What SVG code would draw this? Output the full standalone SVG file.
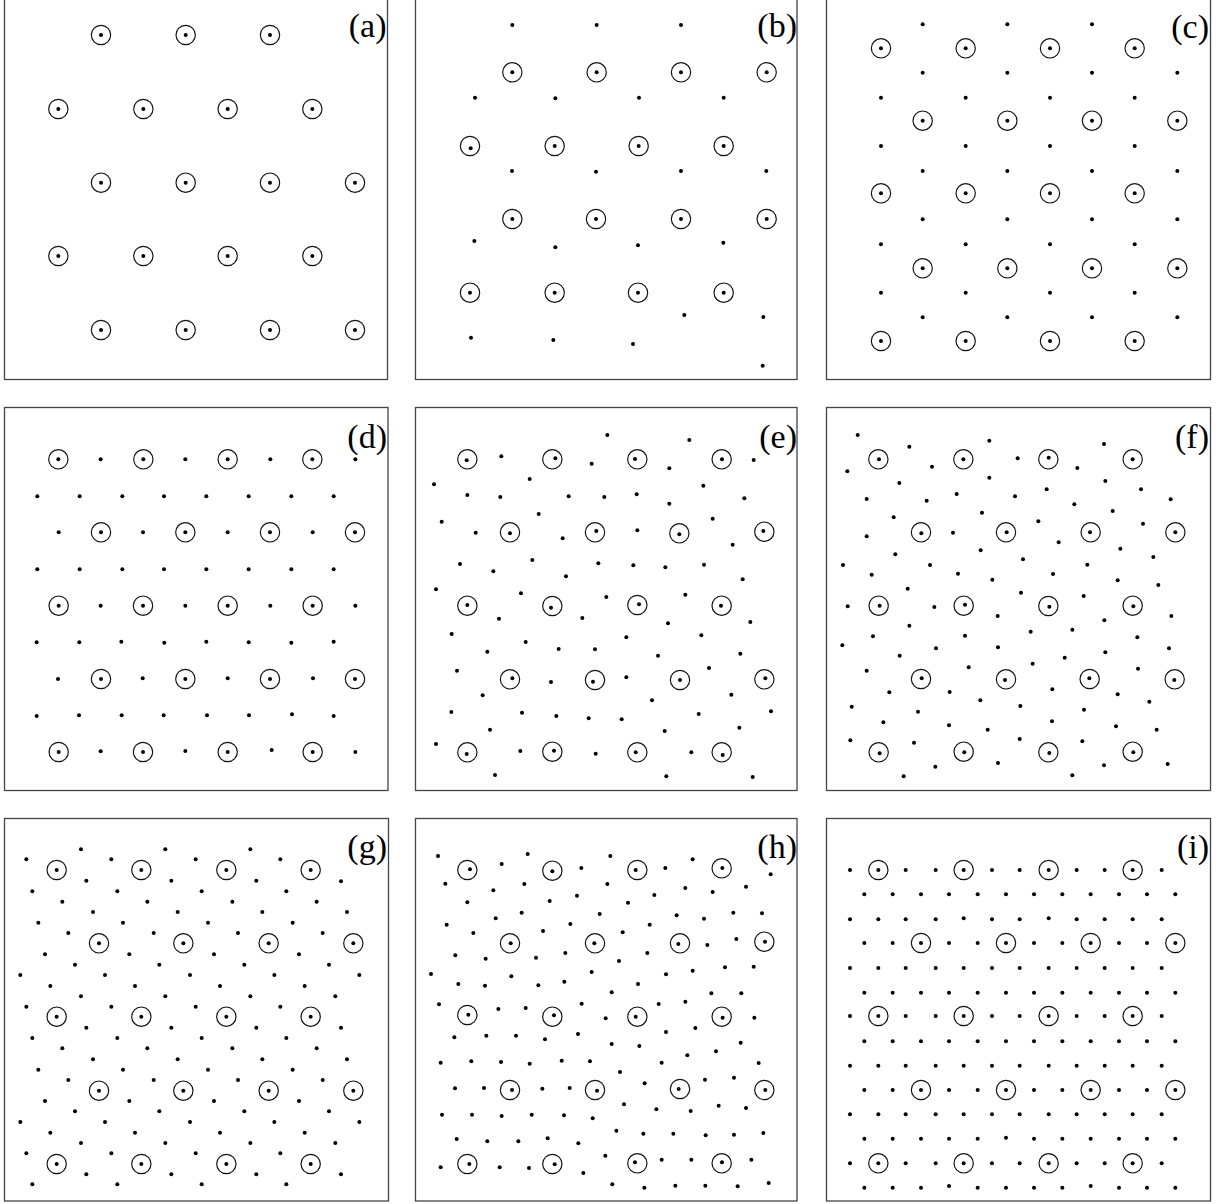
<svg xmlns="http://www.w3.org/2000/svg" width="1224" height="1204" viewBox="0 0 1224 1204">
<style>
.ring{fill:none;stroke:#111;stroke-width:3.5}
.frame{fill:none;stroke:#444;stroke-width:1.3}
.lbl{font-family:"Liberation Serif","Times New Roman",serif;font-size:34px;text-anchor:end;fill:#000}
</style>
<defs>
<circle id="p" r="6" fill="#000"/>
<circle id="r" r="29" class="ring"/>
<g id="c"><use href="#r"/><use href="#p"/></g>
</defs>
<rect width="1224" height="1204" fill="#fff"/>
<g id="frames">
<rect class="frame" x="4.5" y="-4" width="383" height="383.5"/>
<rect class="frame" x="415.5" y="-4" width="381.5" height="383.5"/>
<rect class="frame" x="826.5" y="-4" width="384" height="383.5"/>
<rect class="frame" x="4.5" y="407.5" width="383.5" height="383"/>
<rect class="frame" x="415.5" y="407.5" width="381.5" height="383"/>
<rect class="frame" x="826.5" y="407.5" width="384" height="383"/>
<rect class="frame" x="4.5" y="818.5" width="384" height="382.5"/>
<rect class="frame" x="415.5" y="818.5" width="381.5" height="382.5"/>
<rect class="frame" x="826.5" y="818.5" width="384" height="382.5"/>
</g>
<g id="labels">
<text class="lbl" x="386.5" y="36.5">(a)</text>
<text class="lbl" x="797" y="36.5">(b)</text>
<text class="lbl" x="1209" y="38">(c)</text>
<text class="lbl" x="387" y="447.5">(d)</text>
<text class="lbl" x="797" y="447.5">(e)</text>
<text class="lbl" x="1209" y="447.5">(f)</text>
<text class="lbl" x="387" y="857.5">(g)</text>
<text class="lbl" x="797" y="857.5">(h)</text>
<text class="lbl" x="1209" y="857.5">(i)</text>
</g>
<g id="panel-a" transform="translate(0,0) scale(0.333333)">
<use href="#c" x="303" y="105"/><use href="#c" x="557" y="105"/><use href="#c" x="810" y="105"/>
<use href="#c" x="175" y="327"/><use href="#c" x="430" y="327"/><use href="#c" x="683" y="327"/><use href="#c" x="937" y="327"/>
<use href="#c" x="303" y="548"/><use href="#c" x="557" y="548"/><use href="#c" x="810" y="548"/><use href="#c" x="1065" y="548"/>
<use href="#c" x="175" y="768"/><use href="#c" x="430" y="768"/><use href="#c" x="683" y="768"/><use href="#c" x="937" y="768"/>
<use href="#c" x="303" y="990"/><use href="#c" x="557" y="990"/><use href="#c" x="810" y="990"/><use href="#c" x="1065" y="990"/>
</g>
<g id="panel-b" transform="translate(405,0) scale(0.333333)">
<use href="#p" x="322" y="75"/><use href="#p" x="575" y="75"/><use href="#p" x="828" y="75"/>
<use href="#c" x="322" y="217"/><use href="#c" x="575" y="217"/><use href="#c" x="828" y="217"/><use href="#c" x="1085" y="217"/>
<use href="#p" x="210" y="293"/><use href="#p" x="451" y="295"/><use href="#p" x="702" y="293"/><use href="#p" x="956" y="293"/>
<use href="#r" x="195" y="438"/><use href="#p" x="197" y="445"/><use href="#c" x="449" y="438"/><use href="#c" x="701" y="438"/><use href="#c" x="956" y="438"/>
<use href="#p" x="321" y="513"/><use href="#p" x="573" y="515"/><use href="#p" x="828" y="513"/><use href="#p" x="1084" y="513"/>
<use href="#c" x="322" y="657"/><use href="#c" x="573" y="657"/><use href="#c" x="828" y="657"/><use href="#c" x="1085" y="657"/>
<use href="#p" x="208" y="723"/><use href="#p" x="451" y="742"/><use href="#p" x="699" y="736"/><use href="#p" x="955" y="728"/>
<use href="#c" x="195" y="878"/><use href="#c" x="449" y="878"/><use href="#c" x="699" y="878"/><use href="#c" x="956" y="878"/>
<use href="#p" x="838" y="945"/><use href="#p" x="1075" y="951"/><use href="#p" x="198" y="1013"/><use href="#p" x="445" y="1020"/><use href="#p" x="684" y="1032"/><use href="#p" x="1073" y="1097"/>
</g>
<g id="panel-c" transform="translate(815,0) scale(0.333333)">
<use href="#p" x="323" y="73"/><use href="#p" x="577" y="73"/><use href="#p" x="831" y="73"/>
<use href="#c" x="198" y="145"/><use href="#c" x="452" y="145"/><use href="#c" x="705" y="145"/><use href="#c" x="959" y="145"/>
<use href="#p" x="323" y="218"/><use href="#p" x="577" y="218"/><use href="#p" x="831" y="218"/><use href="#p" x="1087" y="218"/>
<use href="#p" x="198" y="293"/><use href="#p" x="452" y="293"/><use href="#p" x="705" y="293"/><use href="#p" x="959" y="293"/>
<use href="#c" x="323" y="362"/><use href="#c" x="577" y="362"/><use href="#c" x="831" y="362"/><use href="#c" x="1087" y="362"/>
<use href="#p" x="198" y="438"/><use href="#p" x="452" y="438"/><use href="#p" x="705" y="438"/><use href="#p" x="959" y="438"/>
<use href="#p" x="323" y="513"/><use href="#p" x="577" y="513"/><use href="#p" x="831" y="513"/><use href="#p" x="1087" y="513"/>
<use href="#c" x="198" y="580"/><use href="#c" x="452" y="580"/><use href="#c" x="705" y="580"/><use href="#c" x="959" y="580"/>
<use href="#p" x="323" y="658"/><use href="#p" x="577" y="658"/><use href="#p" x="831" y="658"/><use href="#p" x="1087" y="658"/>
<use href="#p" x="198" y="733"/><use href="#p" x="452" y="733"/><use href="#p" x="705" y="733"/><use href="#p" x="959" y="733"/>
<use href="#c" x="323" y="805"/><use href="#c" x="577" y="805"/><use href="#c" x="831" y="805"/><use href="#c" x="1087" y="805"/>
<use href="#p" x="198" y="878"/><use href="#p" x="452" y="878"/><use href="#p" x="705" y="878"/><use href="#p" x="959" y="878"/>
<use href="#p" x="323" y="952"/><use href="#p" x="577" y="952"/><use href="#p" x="831" y="952"/><use href="#p" x="1087" y="952"/>
<use href="#c" x="198" y="1023"/><use href="#c" x="452" y="1023"/><use href="#c" x="705" y="1023"/><use href="#c" x="959" y="1023"/>
</g>
<g id="panel-d" transform="translate(0,400) scale(0.333333)">
<use href="#c" x="175" y="178"/><use href="#c" x="430" y="178"/><use href="#c" x="683" y="178"/><use href="#c" x="937" y="178"/>
<use href="#p" x="302" y="178"/><use href="#p" x="556" y="178"/><use href="#p" x="811" y="178"/><use href="#p" x="1066" y="178"/>
<use href="#p" x="112" y="289"/><use href="#p" x="239" y="289"/><use href="#p" x="367" y="289"/><use href="#p" x="492" y="289"/><use href="#p" x="619" y="289"/><use href="#p" x="746" y="289"/><use href="#p" x="874" y="289"/><use href="#p" x="1001" y="289"/>
<use href="#p" x="176" y="397"/><use href="#p" x="429" y="397"/><use href="#p" x="683" y="397"/><use href="#p" x="938" y="397"/>
<use href="#c" x="303" y="397"/><use href="#c" x="556" y="397"/><use href="#c" x="810" y="397"/><use href="#c" x="1065" y="397"/>
<use href="#p" x="112" y="508"/><use href="#p" x="239" y="508"/><use href="#p" x="367" y="508"/><use href="#p" x="492" y="508"/><use href="#p" x="619" y="508"/><use href="#p" x="746" y="508"/><use href="#p" x="874" y="508"/><use href="#p" x="1001" y="508"/>
<use href="#c" x="176" y="617"/><use href="#c" x="429" y="617"/><use href="#c" x="683" y="617"/><use href="#c" x="938" y="617"/>
<use href="#p" x="302" y="617"/><use href="#p" x="556" y="617"/><use href="#p" x="811" y="617"/><use href="#p" x="1066" y="617"/>
<use href="#p" x="110" y="727"/><use href="#p" x="238" y="727"/><use href="#p" x="364" y="725"/><use href="#p" x="493" y="728"/><use href="#p" x="619" y="725"/><use href="#p" x="746" y="727"/><use href="#p" x="874" y="728"/><use href="#p" x="1001" y="725"/>
<use href="#p" x="174" y="837"/><use href="#p" x="428" y="835"/><use href="#p" x="683" y="835"/><use href="#p" x="939" y="835"/>
<use href="#c" x="303" y="837"/><use href="#c" x="556" y="837"/><use href="#c" x="810" y="837"/><use href="#c" x="1065" y="837"/>
<use href="#p" x="110" y="948"/><use href="#p" x="237" y="946"/><use href="#p" x="365" y="946"/><use href="#p" x="491" y="946"/><use href="#p" x="621" y="946"/><use href="#p" x="747" y="946"/><use href="#p" x="876" y="943"/><use href="#p" x="1001" y="948"/>
<use href="#c" x="176" y="1056"/><use href="#c" x="429" y="1056"/><use href="#c" x="683" y="1056"/><use href="#c" x="938" y="1056"/>
<use href="#p" x="302" y="1054"/><use href="#p" x="556" y="1053"/><use href="#p" x="815" y="1050"/><use href="#p" x="1066" y="1056"/>
</g>
<g id="panel-e" transform="translate(405,400) scale(0.333333)">
<use href="#r" x="187" y="178"/><use href="#p" x="185" y="181"/>
<use href="#r" x="442" y="178"/><use href="#p" x="451" y="175"/>
<use href="#r" x="697" y="178"/><use href="#p" x="690" y="177"/>
<use href="#r" x="950" y="178"/><use href="#p" x="951" y="178"/>
<use href="#r" x="315" y="397"/><use href="#p" x="315" y="400"/>
<use href="#r" x="570" y="397"/><use href="#p" x="574" y="393"/>
<use href="#r" x="823" y="400"/><use href="#p" x="823" y="403"/>
<use href="#r" x="1078" y="395"/><use href="#p" x="1075" y="393"/>
<use href="#r" x="187" y="617"/><use href="#p" x="187" y="615"/>
<use href="#r" x="442" y="618"/><use href="#p" x="438" y="623"/>
<use href="#r" x="697" y="615"/><use href="#p" x="702" y="613"/>
<use href="#r" x="950" y="617"/><use href="#p" x="948" y="617"/>
<use href="#r" x="315" y="838"/><use href="#p" x="322" y="835"/>
<use href="#r" x="570" y="840"/><use href="#p" x="564" y="845"/>
<use href="#r" x="825" y="840"/><use href="#p" x="825" y="840"/>
<use href="#r" x="1078" y="838"/><use href="#p" x="1081" y="835"/>
<use href="#r" x="187" y="1057"/><use href="#p" x="185" y="1062"/>
<use href="#r" x="442" y="1055"/><use href="#p" x="447" y="1052"/>
<use href="#r" x="697" y="1057"/><use href="#p" x="692" y="1057"/>
<use href="#r" x="950" y="1057"/><use href="#p" x="953" y="1065"/>
<use href="#p" x="607" y="105"/><use href="#p" x="853" y="120"/>
<use href="#p" x="289" y="169"/><use href="#p" x="560" y="191"/><use href="#p" x="793" y="205"/><use href="#p" x="1046" y="180"/>
<use href="#p" x="87" y="253"/><use href="#p" x="374" y="237"/><use href="#p" x="895" y="257"/>
<use href="#p" x="187" y="285"/><use href="#p" x="286" y="291"/><use href="#p" x="491" y="289"/><use href="#p" x="598" y="291"/><use href="#p" x="695" y="283"/><use href="#p" x="793" y="311"/><use href="#p" x="1018" y="295"/>
<use href="#p" x="110" y="365"/><use href="#p" x="401" y="342"/><use href="#p" x="923" y="356"/>
<use href="#p" x="212" y="398"/><use href="#p" x="473" y="415"/><use href="#p" x="697" y="391"/><use href="#p" x="983" y="434"/>
<use href="#p" x="165" y="492"/><use href="#p" x="265" y="514"/><use href="#p" x="382" y="480"/><use href="#p" x="580" y="490"/><use href="#p" x="685" y="496"/><use href="#p" x="781" y="502"/><use href="#p" x="897" y="494"/><use href="#p" x="483" y="529"/><use href="#p" x="1013" y="538"/>
<use href="#p" x="93" y="568"/><use href="#p" x="348" y="580"/><use href="#p" x="604" y="591"/><use href="#p" x="841" y="584"/>
<use href="#p" x="282" y="656"/><use href="#p" x="532" y="654"/><use href="#p" x="789" y="670"/><use href="#p" x="1036" y="666"/>
<use href="#p" x="140" y="702"/><use href="#p" x="362" y="726"/><use href="#p" x="664" y="712"/><use href="#p" x="889" y="706"/>
<use href="#p" x="247" y="755"/><use href="#p" x="461" y="747"/><use href="#p" x="570" y="748"/><use href="#p" x="759" y="767"/><use href="#p" x="1006" y="761"/>
<use href="#p" x="156" y="812"/><use href="#p" x="438" y="846"/><use href="#p" x="664" y="832"/><use href="#p" x="912" y="804"/>
<use href="#p" x="233" y="886"/><use href="#p" x="741" y="901"/><use href="#p" x="979" y="884"/>
<use href="#p" x="139" y="936"/><use href="#p" x="351" y="938"/><use href="#p" x="454" y="948"/><use href="#p" x="551" y="955"/><use href="#p" x="650" y="958"/><use href="#p" x="881" y="942"/><use href="#p" x="1098" y="934"/>
<use href="#p" x="255" y="989"/><use href="#p" x="779" y="993"/><use href="#p" x="1003" y="983"/>
<use href="#p" x="93" y="1032"/><use href="#p" x="346" y="1053"/><use href="#p" x="572" y="1061"/><use href="#p" x="859" y="1057"/>
<use href="#p" x="270" y="1125"/><use href="#p" x="784" y="1129"/><use href="#p" x="1043" y="1131"/>
</g>
<g id="panel-f" transform="translate(815,400) scale(0.333333)">
<use href="#r" x="190" y="178"/><use href="#p" x="192" y="178"/>
<use href="#c" x="445" y="178"/>
<use href="#r" x="700" y="178"/><use href="#p" x="701" y="173"/>
<use href="#c" x="953" y="178"/>
<use href="#r" x="318" y="397"/><use href="#p" x="319" y="400"/>
<use href="#r" x="573" y="397"/><use href="#p" x="575" y="397"/>
<use href="#r" x="827" y="397"/><use href="#p" x="825" y="397"/>
<use href="#c" x="1081" y="397"/>
<use href="#r" x="191" y="617"/><use href="#p" x="194" y="617"/>
<use href="#r" x="446" y="617"/><use href="#p" x="450" y="614"/>
<use href="#r" x="700" y="618"/><use href="#p" x="703" y="620"/>
<use href="#r" x="953" y="617"/><use href="#p" x="955" y="619"/>
<use href="#r" x="318" y="837"/><use href="#p" x="320" y="835"/>
<use href="#r" x="573" y="838"/><use href="#p" x="570" y="840"/>
<use href="#r" x="824" y="837"/><use href="#p" x="823" y="835"/>
<use href="#r" x="1079" y="838"/><use href="#p" x="1078" y="840"/>
<use href="#r" x="191" y="1057"/><use href="#p" x="194" y="1060"/>
<use href="#r" x="446" y="1055"/><use href="#p" x="448" y="1057"/>
<use href="#r" x="700" y="1057"/><use href="#p" x="703" y="1059"/>
<use href="#r" x="953" y="1055"/><use href="#p" x="955" y="1057"/>
<use href="#p" x="128" y="105"/><use href="#p" x="283" y="140"/><use href="#p" x="523" y="122"/><use href="#p" x="867" y="132"/>
<use href="#p" x="97" y="214"/><use href="#p" x="351" y="200"/><use href="#p" x="608" y="175"/><use href="#p" x="787" y="204"/>
<use href="#p" x="253" y="249"/><use href="#p" x="523" y="233"/><use href="#p" x="871" y="243"/><use href="#p" x="978" y="268"/><use href="#p" x="695" y="268"/>
<use href="#p" x="155" y="297"/><use href="#p" x="335" y="302"/><use href="#p" x="425" y="282"/><use href="#p" x="600" y="289"/><use href="#p" x="778" y="313"/><use href="#p" x="1067" y="298"/>
<use href="#p" x="236" y="352"/><use href="#p" x="501" y="338"/><use href="#p" x="670" y="364"/><use href="#p" x="893" y="333"/><use href="#p" x="984" y="371"/>
<use href="#p" x="155" y="409"/><use href="#p" x="414" y="398"/><use href="#p" x="731" y="427"/>
<use href="#p" x="241" y="463"/><use href="#p" x="497" y="451"/><use href="#p" x="624" y="478"/><use href="#p" x="916" y="446"/><use href="#p" x="1015" y="471"/>
<use href="#p" x="84" y="495"/><use href="#p" x="345" y="495"/><use href="#p" x="170" y="524"/><use href="#p" x="429" y="521"/><use href="#p" x="532" y="539"/><use href="#p" x="714" y="522"/><use href="#p" x="817" y="494"/><use href="#p" x="908" y="541"/><use href="#p" x="1030" y="555"/>
<use href="#p" x="278" y="566"/><use href="#p" x="618" y="578"/><use href="#p" x="806" y="588"/>
<use href="#p" x="98" y="619"/><use href="#p" x="358" y="621"/><use href="#p" x="548" y="648"/><use href="#p" x="868" y="661"/><use href="#p" x="1069" y="648"/>
<use href="#p" x="283" y="677"/><use href="#p" x="174" y="709"/><use href="#p" x="450" y="707"/><use href="#p" x="647" y="695"/><use href="#p" x="772" y="689"/><use href="#p" x="967" y="712"/>
<use href="#p" x="82" y="736"/><use href="#p" x="363" y="745"/><use href="#p" x="549" y="742"/><use href="#p" x="1062" y="745"/>
<use href="#p" x="254" y="767"/><use href="#p" x="749" y="773"/><use href="#p" x="871" y="757"/>
<use href="#p" x="155" y="812"/><use href="#p" x="461" y="802"/><use href="#p" x="653" y="791"/><use href="#p" x="969" y="806"/>
<use href="#p" x="223" y="877"/><use href="#p" x="404" y="876"/><use href="#p" x="712" y="868"/><use href="#p" x="908" y="883"/>
<use href="#p" x="110" y="920"/><use href="#p" x="309" y="935"/><use href="#p" x="496" y="901"/><use href="#p" x="616" y="918"/><use href="#p" x="807" y="929"/><use href="#p" x="1003" y="905"/>
<use href="#p" x="205" y="967"/><use href="#p" x="402" y="976"/><use href="#p" x="518" y="989"/><use href="#p" x="711" y="964"/><use href="#p" x="903" y="979"/><use href="#p" x="1025" y="989"/>
<use href="#p" x="106" y="1021"/><use href="#p" x="297" y="1028"/><use href="#p" x="614" y="1017"/><use href="#p" x="802" y="1024"/>
<use href="#p" x="361" y="1100"/><use href="#p" x="549" y="1089"/><use href="#p" x="867" y="1096"/><use href="#p" x="1058" y="1092"/>
<use href="#p" x="266" y="1129"/><use href="#p" x="772" y="1126"/>
</g>
<g id="panel-g" transform="translate(0,805) scale(0.333333)">
<use href="#c" x="170" y="195"/><use href="#c" x="424" y="195"/><use href="#c" x="679" y="195"/><use href="#c" x="932" y="195"/>
<use href="#c" x="297" y="415"/><use href="#c" x="550" y="415"/><use href="#c" x="806" y="415"/><use href="#c" x="1060" y="415"/>
<use href="#c" x="170" y="635"/><use href="#c" x="424" y="635"/><use href="#c" x="679" y="635"/><use href="#c" x="932" y="635"/>
<use href="#c" x="297" y="857"/><use href="#c" x="550" y="857"/><use href="#c" x="806" y="857"/><use href="#c" x="1060" y="857"/>
<use href="#c" x="170" y="1077"/><use href="#c" x="424" y="1077"/><use href="#c" x="679" y="1077"/><use href="#c" x="932" y="1077"/>
<use href="#p" x="243" y="133"/><use href="#p" x="496" y="133"/><use href="#p" x="751" y="133"/>
<use href="#p" x="79" y="163"/><use href="#p" x="334" y="163"/><use href="#p" x="587" y="163"/><use href="#p" x="841" y="163"/>
<use href="#p" x="259" y="227"/><use href="#p" x="514" y="227"/><use href="#p" x="769" y="227"/><use href="#p" x="1023" y="229"/>
<use href="#p" x="97" y="259"/><use href="#p" x="352" y="259"/><use href="#p" x="605" y="259"/><use href="#p" x="859" y="259"/>
<use href="#p" x="187" y="290"/><use href="#p" x="442" y="290"/><use href="#p" x="697" y="290"/><use href="#p" x="950" y="290"/>
<use href="#p" x="279" y="321"/><use href="#p" x="533" y="321"/><use href="#p" x="787" y="321"/><use href="#p" x="1041" y="321"/>
<use href="#p" x="115" y="353"/><use href="#p" x="369" y="353"/><use href="#p" x="624" y="353"/><use href="#p" x="878" y="353"/>
<use href="#p" x="205" y="384"/><use href="#p" x="461" y="384"/><use href="#p" x="714" y="384"/><use href="#p" x="968" y="384"/>
<use href="#p" x="135" y="448"/><use href="#p" x="388" y="448"/><use href="#p" x="642" y="448"/><use href="#p" x="897" y="448"/>
<use href="#p" x="225" y="479"/><use href="#p" x="478" y="479"/><use href="#p" x="733" y="479"/><use href="#p" x="987" y="479"/>
<use href="#p" x="61" y="510"/><use href="#p" x="315" y="510"/><use href="#p" x="570" y="510"/><use href="#p" x="823" y="510"/><use href="#p" x="1078" y="510"/>
<use href="#p" x="151" y="543"/><use href="#p" x="405" y="543"/><use href="#p" x="660" y="543"/><use href="#p" x="914" y="543"/>
<use href="#p" x="243" y="574"/><use href="#p" x="496" y="574"/><use href="#p" x="751" y="574"/><use href="#p" x="1006" y="574"/>
<use href="#p" x="79" y="605"/><use href="#p" x="334" y="605"/><use href="#p" x="587" y="605"/><use href="#p" x="841" y="605"/>
<use href="#p" x="259" y="668"/><use href="#p" x="514" y="668"/><use href="#p" x="769" y="668"/><use href="#p" x="1023" y="668"/>
<use href="#p" x="97" y="699"/><use href="#p" x="352" y="699"/><use href="#p" x="605" y="699"/><use href="#p" x="859" y="699"/>
<use href="#p" x="187" y="730"/><use href="#p" x="442" y="730"/><use href="#p" x="697" y="730"/><use href="#p" x="950" y="730"/>
<use href="#p" x="279" y="763"/><use href="#p" x="533" y="763"/><use href="#p" x="787" y="763"/><use href="#p" x="1041" y="763"/>
<use href="#p" x="115" y="794"/><use href="#p" x="369" y="794"/><use href="#p" x="624" y="794"/><use href="#p" x="878" y="794"/>
<use href="#p" x="205" y="825"/><use href="#p" x="461" y="825"/><use href="#p" x="714" y="825"/><use href="#p" x="968" y="825"/>
<use href="#p" x="135" y="888"/><use href="#p" x="388" y="888"/><use href="#p" x="642" y="888"/><use href="#p" x="897" y="888"/>
<use href="#p" x="225" y="919"/><use href="#p" x="478" y="919"/><use href="#p" x="733" y="919"/><use href="#p" x="987" y="919"/>
<use href="#p" x="61" y="951"/><use href="#p" x="315" y="951"/><use href="#p" x="570" y="951"/><use href="#p" x="823" y="951"/><use href="#p" x="1078" y="951"/>
<use href="#p" x="151" y="983"/><use href="#p" x="405" y="983"/><use href="#p" x="660" y="983"/><use href="#p" x="914" y="983"/>
<use href="#p" x="243" y="1014"/><use href="#p" x="496" y="1014"/><use href="#p" x="751" y="1014"/><use href="#p" x="1006" y="1014"/>
<use href="#p" x="79" y="1045"/><use href="#p" x="334" y="1045"/><use href="#p" x="587" y="1045"/><use href="#p" x="841" y="1045"/>
<use href="#p" x="259" y="1108"/><use href="#p" x="514" y="1108"/><use href="#p" x="769" y="1108"/><use href="#p" x="1023" y="1108"/>
<use href="#p" x="97" y="1138"/><use href="#p" x="352" y="1138"/><use href="#p" x="605" y="1138"/><use href="#p" x="859" y="1138"/>
</g>
<g id="panel-h" transform="translate(405,805) scale(0.333333)">
<use href="#r" x="187" y="195"/><use href="#p" x="195" y="193"/>
<use href="#r" x="442" y="197"/><use href="#p" x="442" y="199"/>
<use href="#r" x="697" y="195"/><use href="#p" x="692" y="195"/>
<use href="#r" x="950" y="190"/><use href="#p" x="952" y="189"/>
<use href="#r" x="315" y="415"/><use href="#p" x="317" y="415"/>
<use href="#r" x="570" y="415"/><use href="#p" x="568" y="415"/>
<use href="#r" x="825" y="415"/><use href="#p" x="820" y="417"/>
<use href="#r" x="1078" y="410"/><use href="#p" x="1080" y="410"/>
<use href="#r" x="187" y="630"/><use href="#p" x="190" y="629"/>
<use href="#r" x="442" y="635"/><use href="#p" x="447" y="631"/>
<use href="#r" x="697" y="635"/><use href="#p" x="692" y="635"/>
<use href="#r" x="950" y="635"/><use href="#p" x="953" y="638"/>
<use href="#r" x="315" y="855"/><use href="#p" x="321" y="855"/>
<use href="#r" x="570" y="855"/><use href="#p" x="576" y="857"/>
<use href="#r" x="825" y="852"/><use href="#p" x="821" y="852"/>
<use href="#r" x="1078" y="855"/><use href="#p" x="1081" y="855"/>
<use href="#r" x="187" y="1077"/><use href="#p" x="193" y="1077"/>
<use href="#r" x="442" y="1077"/><use href="#p" x="449" y="1078"/>
<use href="#r" x="697" y="1075"/><use href="#p" x="690" y="1072"/>
<use href="#r" x="950" y="1075"/><use href="#p" x="951" y="1072"/>
<use href="#p" x="99" y="153"/><use href="#p" x="368" y="147"/><use href="#p" x="616" y="153"/><use href="#p" x="863" y="163"/>
<use href="#p" x="290" y="177"/><use href="#p" x="529" y="189"/><use href="#p" x="781" y="189"/><use href="#p" x="1097" y="208"/>
<use href="#p" x="121" y="236"/><use href="#p" x="358" y="237"/><use href="#p" x="265" y="256"/><use href="#p" x="607" y="237"/><use href="#p" x="841" y="249"/><use href="#p" x="923" y="261"/><use href="#p" x="1023" y="245"/>
<use href="#p" x="187" y="292"/><use href="#p" x="434" y="288"/><use href="#p" x="516" y="272"/><use href="#p" x="669" y="293"/><use href="#p" x="748" y="270"/>
<use href="#p" x="350" y="323"/><use href="#p" x="584" y="327"/><use href="#p" x="272" y="340"/><use href="#p" x="815" y="331"/><use href="#p" x="897" y="341"/><use href="#p" x="985" y="323"/><use href="#p" x="1071" y="325"/>
<use href="#p" x="125" y="359"/><use href="#p" x="496" y="357"/><use href="#p" x="734" y="359"/>
<use href="#p" x="205" y="384"/><use href="#p" x="414" y="378"/><use href="#p" x="653" y="382"/>
<use href="#p" x="907" y="420"/><use href="#p" x="994" y="402"/>
<use href="#p" x="151" y="451"/><use href="#p" x="242" y="461"/><use href="#p" x="393" y="458"/><use href="#p" x="481" y="444"/><use href="#p" x="727" y="444"/><use href="#p" x="642" y="468"/>
<use href="#p" x="78" y="507"/><use href="#p" x="319" y="514"/><use href="#p" x="560" y="501"/><use href="#p" x="783" y="508"/><use href="#p" x="863" y="497"/><use href="#p" x="960" y="487"/><use href="#p" x="1046" y="485"/>
<use href="#p" x="160" y="537"/><use href="#p" x="240" y="542"/><use href="#p" x="400" y="541"/><use href="#p" x="478" y="530"/><use href="#p" x="699" y="537"/><use href="#p" x="620" y="562"/><use href="#p" x="919" y="565"/><use href="#p" x="1009" y="565"/>
<use href="#p" x="102" y="598"/><use href="#p" x="280" y="612"/><use href="#p" x="362" y="609"/><use href="#p" x="530" y="596"/><use href="#p" x="761" y="597"/><use href="#p" x="841" y="590"/>
<use href="#p" x="602" y="640"/><use href="#p" x="1048" y="638"/>
<use href="#p" x="148" y="697"/><use href="#p" x="244" y="692"/><use href="#p" x="333" y="692"/><use href="#p" x="420" y="703"/><use href="#p" x="519" y="687"/><use href="#p" x="783" y="681"/><use href="#p" x="871" y="669"/>
<use href="#p" x="620" y="717"/><use href="#p" x="703" y="723"/><use href="#p" x="1007" y="713"/>
<use href="#p" x="107" y="773"/><use href="#p" x="199" y="769"/><use href="#p" x="288" y="771"/><use href="#p" x="374" y="776"/><use href="#p" x="470" y="767"/><use href="#p" x="555" y="769"/><use href="#p" x="770" y="773"/><use href="#p" x="847" y="751"/><use href="#p" x="933" y="739"/><use href="#p" x="1061" y="774"/>
<use href="#p" x="645" y="801"/>
<use href="#p" x="150" y="850"/><use href="#p" x="237" y="849"/><use href="#p" x="412" y="851"/><use href="#p" x="494" y="849"/><use href="#p" x="719" y="835"/><use href="#p" x="900" y="824"/><use href="#p" x="987" y="818"/>
<use href="#p" x="657" y="898"/><use href="#p" x="754" y="913"/><use href="#p" x="857" y="918"/><use href="#p" x="941" y="902"/><use href="#p" x="1023" y="909"/>
<use href="#p" x="111" y="929"/><use href="#p" x="201" y="929"/><use href="#p" x="290" y="933"/><use href="#p" x="380" y="929"/><use href="#p" x="477" y="931"/><use href="#p" x="563" y="940"/>
<use href="#p" x="634" y="977"/><use href="#p" x="715" y="986"/><use href="#p" x="805" y="986"/><use href="#p" x="902" y="991"/><use href="#p" x="987" y="989"/><use href="#p" x="1075" y="984"/>
<use href="#p" x="155" y="1002"/><use href="#p" x="247" y="1009"/><use href="#p" x="340" y="1009"/><use href="#p" x="428" y="1000"/><use href="#p" x="520" y="1015"/>
<use href="#p" x="601" y="1052"/><use href="#p" x="770" y="1064"/><use href="#p" x="859" y="1064"/><use href="#p" x="1039" y="1064"/>
<use href="#p" x="107" y="1087"/><use href="#p" x="284" y="1087"/><use href="#p" x="372" y="1089"/><use href="#p" x="535" y="1104"/>
<use href="#p" x="622" y="1138"/><use href="#p" x="718" y="1148"/><use href="#p" x="811" y="1142"/><use href="#p" x="901" y="1142"/><use href="#p" x="998" y="1144"/><use href="#p" x="1091" y="1134"/>
</g>
<g id="panel-i" transform="translate(815,805) scale(0.333333)">
<use href="#c" x="190" y="195"/><use href="#c" x="446" y="195"/><use href="#c" x="701" y="195"/><use href="#c" x="953" y="195"/>
<use href="#p" x="105" y="195"/><use href="#p" x="272" y="195"/><use href="#p" x="362" y="195"/><use href="#p" x="531" y="195"/><use href="#p" x="614" y="195"/><use href="#p" x="785" y="195"/><use href="#p" x="869" y="195"/><use href="#p" x="1040" y="195"/>
<use href="#p" x="148" y="268"/><use href="#p" x="233" y="268"/><use href="#p" x="318" y="268"/><use href="#p" x="402" y="268"/><use href="#p" x="488" y="268"/><use href="#p" x="573" y="268"/><use href="#p" x="657" y="268"/><use href="#p" x="742" y="268"/><use href="#p" x="827" y="268"/><use href="#p" x="912" y="268"/><use href="#p" x="996" y="268"/><use href="#p" x="1081" y="268"/>
<use href="#p" x="105" y="343"/><use href="#p" x="190" y="343"/><use href="#p" x="272" y="343"/><use href="#p" x="362" y="343"/><use href="#p" x="446" y="340"/><use href="#p" x="531" y="343"/><use href="#p" x="614" y="343"/><use href="#p" x="701" y="340"/><use href="#p" x="785" y="343"/><use href="#p" x="869" y="343"/><use href="#p" x="953" y="343"/><use href="#p" x="1040" y="343"/>
<use href="#c" x="318" y="414"/><use href="#c" x="573" y="414"/><use href="#c" x="827" y="414"/><use href="#c" x="1081" y="414"/>
<use href="#p" x="148" y="414"/><use href="#p" x="233" y="414"/><use href="#p" x="402" y="414"/><use href="#p" x="488" y="414"/><use href="#p" x="657" y="414"/><use href="#p" x="742" y="414"/><use href="#p" x="912" y="414"/><use href="#p" x="996" y="414"/>
<use href="#p" x="105" y="489"/><use href="#p" x="190" y="489"/><use href="#p" x="272" y="489"/><use href="#p" x="362" y="489"/><use href="#p" x="446" y="489"/><use href="#p" x="531" y="489"/><use href="#p" x="614" y="489"/><use href="#p" x="701" y="489"/><use href="#p" x="785" y="489"/><use href="#p" x="869" y="489"/><use href="#p" x="953" y="489"/><use href="#p" x="1040" y="489"/>
<use href="#p" x="148" y="563"/><use href="#p" x="233" y="563"/><use href="#p" x="318" y="563"/><use href="#p" x="402" y="563"/><use href="#p" x="488" y="563"/><use href="#p" x="573" y="563"/><use href="#p" x="657" y="563"/><use href="#p" x="742" y="563"/><use href="#p" x="827" y="563"/><use href="#p" x="912" y="563"/><use href="#p" x="996" y="563"/><use href="#p" x="1081" y="563"/>
<use href="#c" x="190" y="633"/><use href="#c" x="446" y="633"/><use href="#c" x="701" y="633"/><use href="#c" x="953" y="633"/>
<use href="#p" x="105" y="633"/><use href="#p" x="272" y="633"/><use href="#p" x="362" y="633"/><use href="#p" x="531" y="633"/><use href="#p" x="614" y="633"/><use href="#p" x="785" y="633"/><use href="#p" x="869" y="633"/><use href="#p" x="1040" y="633"/>
<use href="#p" x="148" y="709"/><use href="#p" x="233" y="709"/><use href="#p" x="318" y="709"/><use href="#p" x="402" y="709"/><use href="#p" x="488" y="709"/><use href="#p" x="573" y="709"/><use href="#p" x="657" y="709"/><use href="#p" x="742" y="709"/><use href="#p" x="827" y="709"/><use href="#p" x="912" y="709"/><use href="#p" x="996" y="709"/><use href="#p" x="1081" y="709"/>
<use href="#p" x="105" y="782"/><use href="#p" x="190" y="782"/><use href="#p" x="272" y="782"/><use href="#p" x="362" y="782"/><use href="#p" x="446" y="782"/><use href="#p" x="531" y="782"/><use href="#p" x="614" y="782"/><use href="#p" x="701" y="782"/><use href="#p" x="785" y="782"/><use href="#p" x="869" y="782"/><use href="#p" x="953" y="782"/><use href="#p" x="1040" y="782"/>
<use href="#c" x="318" y="855"/><use href="#c" x="573" y="855"/><use href="#c" x="827" y="855"/><use href="#c" x="1081" y="855"/>
<use href="#p" x="148" y="855"/><use href="#p" x="233" y="855"/><use href="#p" x="402" y="855"/><use href="#p" x="488" y="855"/><use href="#p" x="657" y="855"/><use href="#p" x="742" y="855"/><use href="#p" x="912" y="855"/><use href="#p" x="996" y="855"/>
<use href="#p" x="105" y="928"/><use href="#p" x="190" y="928"/><use href="#p" x="272" y="928"/><use href="#p" x="362" y="928"/><use href="#p" x="446" y="928"/><use href="#p" x="531" y="928"/><use href="#p" x="614" y="928"/><use href="#p" x="701" y="928"/><use href="#p" x="785" y="928"/><use href="#p" x="869" y="928"/><use href="#p" x="953" y="928"/><use href="#p" x="1040" y="928"/>
<use href="#p" x="148" y="1001"/><use href="#p" x="233" y="1001"/><use href="#p" x="318" y="1001"/><use href="#p" x="402" y="1001"/><use href="#p" x="488" y="1001"/><use href="#p" x="573" y="998"/><use href="#p" x="657" y="1001"/><use href="#p" x="742" y="1001"/><use href="#p" x="827" y="1001"/><use href="#p" x="912" y="1001"/><use href="#p" x="996" y="1001"/><use href="#p" x="1081" y="1001"/>
<use href="#c" x="190" y="1075"/><use href="#c" x="446" y="1075"/><use href="#c" x="701" y="1075"/><use href="#c" x="953" y="1075"/>
<use href="#p" x="105" y="1075"/><use href="#p" x="272" y="1075"/><use href="#p" x="362" y="1075"/><use href="#p" x="531" y="1075"/><use href="#p" x="614" y="1075"/><use href="#p" x="785" y="1075"/><use href="#p" x="869" y="1075"/><use href="#p" x="1040" y="1075"/>
<use href="#p" x="148" y="1148"/><use href="#p" x="233" y="1148"/><use href="#p" x="318" y="1148"/><use href="#p" x="402" y="1143"/><use href="#p" x="488" y="1148"/><use href="#p" x="573" y="1148"/><use href="#p" x="657" y="1148"/><use href="#p" x="742" y="1148"/><use href="#p" x="827" y="1143"/><use href="#p" x="912" y="1148"/><use href="#p" x="996" y="1148"/><use href="#p" x="1081" y="1148"/>
</g>
</svg>
